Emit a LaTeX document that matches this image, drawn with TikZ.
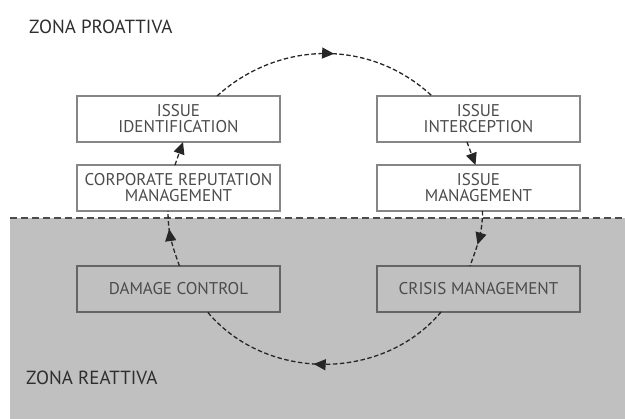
\documentclass[tikz,border=0pt]{standalone}
\usepackage{fontspec}
\setsansfont{PT Sans}
\usetikzlibrary{positioning, arrows.meta, decorations.markings}

\definecolor{zonegray}{HTML}{C0C0C0}
\definecolor{boxline}{HTML}{868686}
\definecolor{boxtext}{HTML}{4C4C4C}
\definecolor{zonetext}{HTML}{2E2E2E}

\begin{document}
\begin{tikzpicture}[x=1pt, y=1pt, node distance=23pt,
    box/.style={draw=boxline, line width=1.1pt, fill=white, minimum width=203pt,
      minimum height=46pt, inner sep=0pt, outer sep=0pt, align=center, text=boxtext,
      font=\sffamily\fontsize{17}{16}\selectfont},
    lowbox/.style={box, fill=none, draw=boxline!75!black},
    zone/.style={anchor=west, inner sep=0pt, text=zonetext,
      font=\sffamily\fontsize{19}{19}\selectfont},
    flow/.style={draw=black!85, line width=1.3pt, dash pattern=on 4.5pt off 2.5pt},
    mid/.style={postaction={decorate}, decoration={markings,
      mark=at position #1 with {\arrow{Triangle[length=12pt,width=11pt]}}}},
    tip/.style={-{Triangle[length=12pt,width=11pt]}}]

  \useasboundingbox (0,0) rectangle (625,-419);

  % zona reattiva
  \fill[zonegray] (10,-218) rectangle (625,-419);
  \draw[line width=1.3pt, black!70, dash pattern=on 7pt off 4pt] (10,-218) -- (625,-218);

  \node[zone] (pro) at (29,-26.5) {ZONA PROATTIVA};
  \node[zone] (rea) at (26,-378) {ZONA REATTIVA};

  \node[box] (idf) at (178.5,-119) {ISSUE\\IDENTIFICATION};
  \node[box, below=of idf] (crm) {CORPORATE REPUTATION\\MANAGEMENT};
  \node[lowbox, below=55pt of crm] (dmg) {DAMAGE CONTROL};
  \node[box, right=97pt of idf] (icp) {ISSUE\\INTERCEPTION};
  \node[box, below=of icp] (ism) {ISSUE\\MANAGEMENT};
  \node[lowbox, below=55pt of ism] (crs) {CRISIS MANAGEMENT};

  % the cycle
  \draw[flow, mid=0.54] ([xshift=38.5pt]idf.north) to[out=42,in=137] ([xshift=-46.5pt]icp.north);
  \draw[flow, tip] ([xshift=-11.5pt]icp.south) -- ([xshift=-3pt]ism.north);
  \draw[flow, mid=0.6] ([xshift=4pt]ism.south) to[out=-90,in=70] ([xshift=-8.5pt]crs.north);
  \draw[flow, mid=0.54] ([xshift=-37.5pt]crs.south) to[out=-130,in=-50] ([xshift=29pt]dmg.south);
  \draw[flow, mid=0.68] ([xshift=1pt]dmg.north) to[out=110,in=-90] ([xshift=-10.5pt]crm.south);
  \draw[flow, tip] ([xshift=-3.5pt]crm.north) -- ([xshift=4.5pt]idf.south);
\end{tikzpicture}
\end{document}
